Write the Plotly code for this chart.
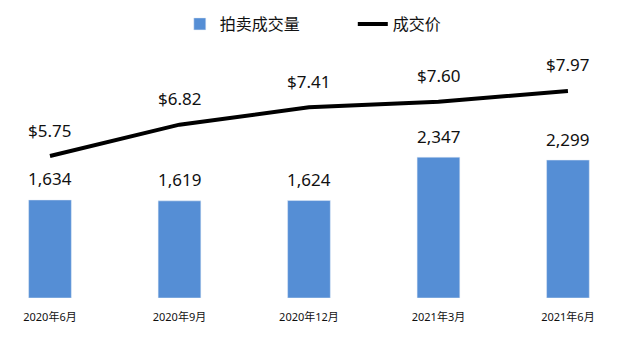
import plotly.graph_objects as go

categories = ["2020年6月", "2020年9月", "2020年12月", "2021年3月", "2021年6月"]
volume = [1634, 1619, 1624, 2347, 2299]
price = [5.75, 6.82, 7.41, 7.60, 7.97]
volume_labels = [f"{v:,}" for v in volume]
price_labels = [f"${p:.2f}" for p in price]

FONT = "Noto Sans, Noto Sans CJK SC, sans-serif"
BLUE = "#558ED5"

fig = go.Figure()
fig.add_trace(go.Bar(x=categories, y=volume, name="拍卖成交量", marker_color=BLUE,
                     width=0.33, yaxis="y"))
fig.add_trace(go.Scatter(x=categories, y=price, name="成交价", mode="lines",
                         line=dict(color="black", width=4), yaxis="y2"))

annotations = []
for c, v, t in zip(categories, volume, volume_labels):
    annotations.append(dict(x=c, y=v, xref="x", yref="y", text=t, showarrow=False,
                            yshift=21, font=dict(size=17, color="#111", family=FONT)))
for c, p, t in zip(categories, price, price_labels):
    annotations.append(dict(x=c, y=p, xref="x", yref="y2", text=t, showarrow=False,
                            yshift=26, font=dict(size=17, color="#111", family=FONT)))

fig.update_layout(
    width=620, height=338,
    margin=dict(l=0, r=0, t=40, b=40),
    paper_bgcolor="white", plot_bgcolor="white",
    font=dict(family=FONT, color="#111"),
    showlegend=True,
    legend=dict(orientation="h", x=0.29, xanchor="left", y=1.062, yanchor="middle",
                font=dict(size=16, family=FONT), entrywidth=128, entrywidthmode="pixels",
                itemwidth=30, traceorder="normal"),
    xaxis=dict(range=[-0.386, 4.402], showgrid=False, showline=False, zeroline=False,
               ticks="", ticklabelstandoff=11,
               tickfont=dict(size=11, family=FONT, color="#111")),
    yaxis=dict(range=[0, 4300], visible=False, showgrid=False),
    yaxis2=dict(range=[0.904, 9.709], visible=False, overlaying="y", side="right",
                showgrid=False),
    annotations=annotations,
)

fig.write_html("out.html")
